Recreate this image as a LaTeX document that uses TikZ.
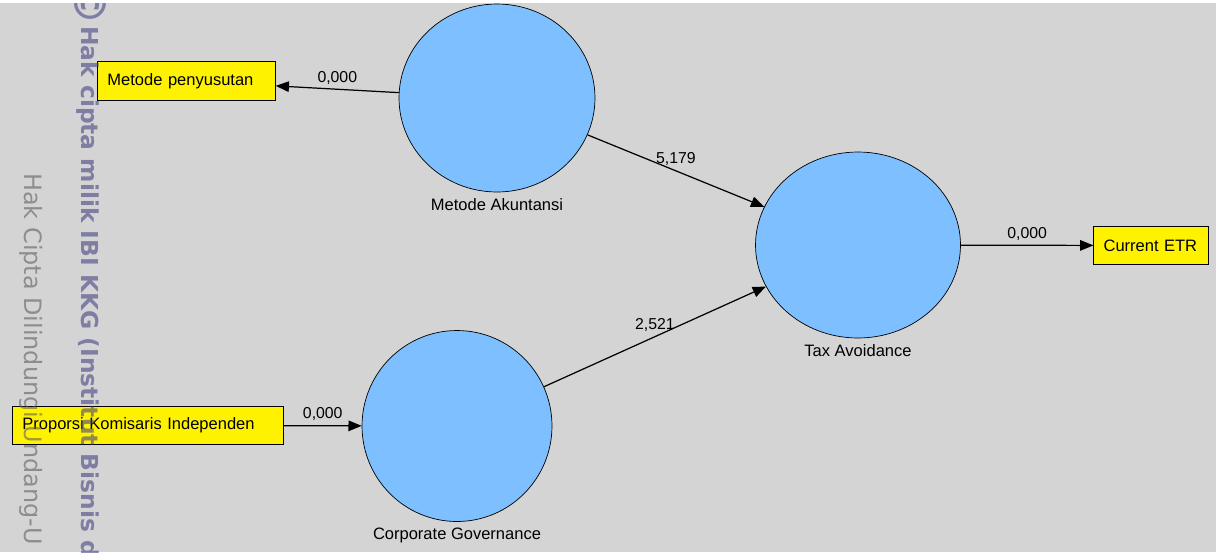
\documentclass[tikz,border=0pt]{standalone}
\usepackage{fontspec}
\setmainfont{Liberation Sans}
\newfontfamily\markfont{DejaVu Sans}
\usepackage{xcolor}
\usetikzlibrary{shapes.geometric,arrows.meta}

\definecolor{pane}{RGB}{212,212,212}
\definecolor{latentblue}{RGB}{126,192,255}
\definecolor{markblue}{RGB}{70,70,135}
\definecolor{markgrey}{RGB}{95,95,95}

\tikzset{
  latent/.style={ellipse, draw, thin, fill=latentblue, inner sep=0pt, label distance=0pt},
  indicator/.style={rectangle, draw, semithick, fill=yellow, minimum height=0.77cm, inner xsep=5.5pt, align=left},
  link/.style={-{Triangle[length=7.5pt,width=6pt]}, line width=0.7pt},
  coef/.style={midway, above, inner sep=2.5pt, font=\fontsize{9}{10}\selectfont},
  watermark/.style={rotate=-90, anchor=base west, inner sep=0pt, opacity=0.6}
}

\begin{document}
\begin{tikzpicture}[x=0.02cm, y=-0.02cm, font=\fontsize{9.4}{11}\selectfont]
        \useasboundingbox (0,0) rectangle (1223,552);
        \fill[white] (0,0) rectangle (1223,552);
        \fill[pane] (0,3) rectangle (1216,552);
        \node[latent, minimum width=3.92cm, minimum height=3.76cm, label=below:Metode Akuntansi](ma) at (497,98) {};
        \node[latent, minimum width=4.1cm, minimum height=3.72cm, label=below:Tax Avoidance](ta) at (858,245) {};
        \node[latent, minimum width=3.8cm, minimum height=3.82cm, label=below:Corporate Governance](cg) at (457,426) {};
        \node[indicator, text width=90pt](mp) at (186.5,81) {Metode penyusutan};
        \node[indicator, text width=54pt](etr) at (1151,245.5) {Current ETR};
        \node[indicator, text width=143pt](pki) at (148,425.5) {Proporsi Komisaris Independen};
        \draw[link] (ma) -- node[coef]{0,000} (mp);
        \draw[link] (ma) -- node[coef]{5,179} (ta);
        \draw[link] (cg) -- node[coef]{2,521} (ta);
        \draw[link] (ta) -- node[coef]{0,000} (etr);
        \draw[link] (pki) -- node[coef]{0,000} (cg);
        \begin{scope}
        \clip (0,3) rectangle (1216,552);
        \node[watermark, text=markblue, font=\markfont\bfseries\fontsize{13.3}{15}\selectfont](wmbold) at (81,-19) {\raisebox{-3.5pt}{\fontsize{25}{25}\selectfont ©}\hspace{0.5pt}Hak cipta milik IBI KKG (Institut Bisnis d};
        \node[watermark, text=markgrey, font=\markfont\fontsize{13.6}{15}\selectfont](wmthin) at (24,173) {Hak Cipta Dilindungi Undang-U};
        \end{scope}
\end{tikzpicture}
\end{document}
